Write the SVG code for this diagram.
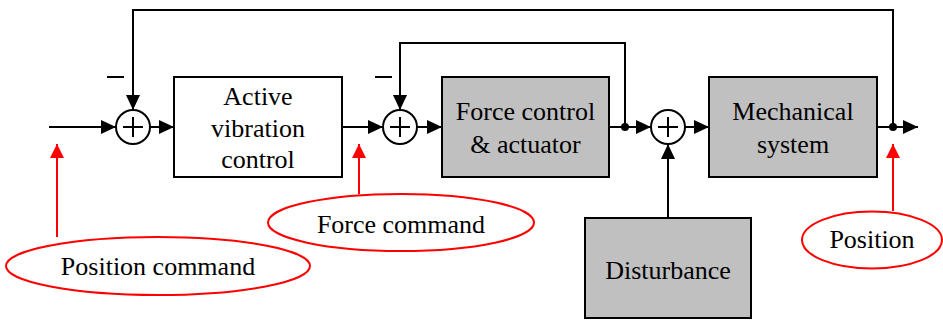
<svg xmlns="http://www.w3.org/2000/svg" width="943" height="321" viewBox="0 0 943 321">
<style>
.line{fill:none;stroke:#000;stroke-width:2}
.red{fill:none;stroke:#ff0000;stroke-width:2}
.box{stroke:#000;stroke-width:2}
.sum{fill:#fff;stroke:#000;stroke-width:2}
.t{font-family:"Liberation Serif","DejaVu Serif","Noto Serif",serif;font-size:26px;fill:#000;text-anchor:middle}
.ell{fill:#fff;stroke:#ff0000;stroke-width:2}
</style>
<defs>
<marker id="ah" markerWidth="15" markerHeight="14" refX="15" refY="7" orient="auto" markerUnits="userSpaceOnUse">
<path d="M0,0 L15,7 L0,14 Z" fill="#000"/>
</marker>
<marker id="rh" markerWidth="14" markerHeight="14" refX="14" refY="7" orient="auto" markerUnits="userSpaceOnUse">
<path d="M0,0 L14,7 L0,14 Z" fill="#ff0000"/>
</marker>
</defs>
<rect width="943" height="321" fill="#fff"/>
<g id="connectors">
<line class="line" x1="49" y1="127" x2="116" y2="127" marker-end="url(#ah)"/>
<line class="line" x1="149" y1="127" x2="174" y2="127" marker-end="url(#ah)"/>
<line class="line" x1="342" y1="127" x2="383" y2="127" marker-end="url(#ah)"/>
<line class="line" x1="417" y1="127" x2="442" y2="127" marker-end="url(#ah)"/>
<line class="line" x1="609" y1="127" x2="651" y2="127" marker-end="url(#ah)"/>
<line class="line" x1="685" y1="127" x2="709" y2="127" marker-end="url(#ah)"/>
<line class="line" x1="877" y1="127" x2="918" y2="127" marker-end="url(#ah)"/>
<polyline class="line" points="625,127 625,43 400,43 400,110" marker-end="url(#ah)"/>
<polyline class="line" points="893,127 893,10 133,10 133,110" marker-end="url(#ah)"/>
<line class="line" x1="668" y1="218" x2="668" y2="144" marker-end="url(#ah)"/>
<circle cx="625" cy="127" r="4" fill="#000"/>
<circle cx="893" cy="127" r="4" fill="#000"/>
<line class="line" x1="107" y1="77" x2="124" y2="77"/>
<line class="line" x1="375" y1="77" x2="392" y2="77"/>
<line class="red" x1="57" y1="237" x2="57" y2="144" marker-end="url(#rh)"/>
<line class="red" x1="359" y1="194" x2="359" y2="144" marker-end="url(#rh)"/>
<line class="red" x1="893" y1="211" x2="893" y2="144" marker-end="url(#rh)"/>
</g>
<g id="sum1"><circle class="sum" cx="133" cy="127" r="17"/><path class="line" d="M123,127 H143 M133,117 V137"/></g>
<g id="sum2"><circle class="sum" cx="400" cy="127" r="17"/><path class="line" d="M390,127 H410 M400,117 V137"/></g>
<g id="sum3"><circle class="sum" cx="668" cy="127" r="17"/><path class="line" d="M658,127 H678 M668,117 V137"/></g>
<g id="active">
<rect class="box" x="174" y="77" width="168" height="100" fill="#fff"/>
<text class="t" x="258" y="105">Active</text>
<text class="t" x="258" y="137">vibration</text>
<text class="t" x="258" y="168">control</text>
</g>
<g id="force">
<rect class="box" x="442" y="77" width="167" height="100" fill="#c0c0c0"/>
<text class="t" x="525.5" y="120">Force control</text>
<text class="t" x="525.5" y="153">&amp; actuator</text>
</g>
<g id="mech">
<rect class="box" x="709" y="77" width="168" height="100" fill="#c0c0c0"/>
<text class="t" x="793" y="120">Mechanical</text>
<text class="t" x="793" y="153">system</text>
</g>
<g id="disturbance">
<rect class="box" x="585" y="218" width="166" height="100" fill="#c0c0c0"/>
<text class="t" x="668" y="279">Disturbance</text>
</g>
<g id="poscmd">
<ellipse class="ell" cx="158" cy="266" rx="152" ry="29"/>
<text class="t" x="158" y="275">Position command</text>
</g>
<g id="forcecmd">
<ellipse class="ell" cx="401" cy="222.5" rx="133" ry="28.5"/>
<text class="t" x="401" y="233">Force command</text>
</g>
<g id="position">
<ellipse class="ell" cx="872" cy="240" rx="70" ry="28.5"/>
<text class="t" x="872" y="248">Position</text>
</g>
</svg>
